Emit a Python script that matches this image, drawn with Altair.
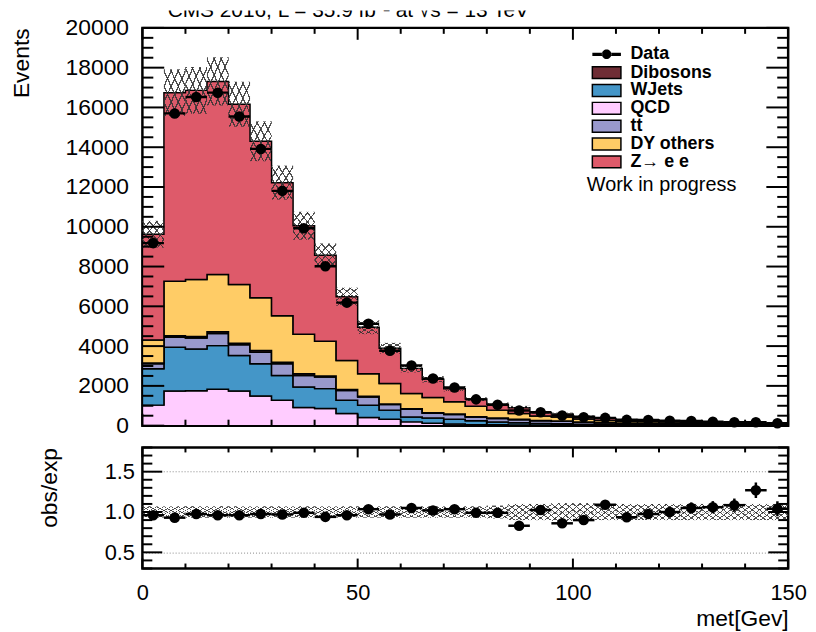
import altair as alt
import pandas as pd

FONT = "Liberation Sans"

# ---------------- data ----------------
BIN_EDGES = list(range(0, 155, 5))

LEGEND_ORDER = ["Dibosons", "WJets", "QCD", "tt", "DY others", "Z\u2192 e e"]
LEGEND_COLORS = ["#6f2d35", "#4496c8", "#ffccff", "#9999cc", "#ffcc66", "#de5a6a"]
STACK_ORDER = ["QCD", "WJets", "tt", "Dibosons", "DY others", "Z\u2192 e e"]

QCD = [1032, 1746, 1760, 1829, 1746, 1496, 1282, 914, 863, 615,
       415, 316, 190, 120, 83, 50, 40, 30, 25, 20,
       15, 12, 10, 8, 6, 5, 4, 3, 2, 2]
WJETS = [1826, 2194, 2096, 2195, 1779, 1612, 1245, 1031, 999, 666,
         616, 465, 250, 260, 233, 199, 143, 120, 85, 70,
         55, 43, 35, 30, 26, 22, 18, 15, 13, 10]
TT = [250, 499, 550, 614, 548, 583, 581, 582, 578, 489,
      409, 280, 380, 245, 244, 181, 182, 150, 140, 130,
      105, 85, 75, 70, 63, 55, 50, 44, 37, 33]
DIBOSONS = [42, 83, 74, 84, 67, 83, 84, 83, 54, 42,
            40, 31, 28, 23, 22, 19, 17, 16, 15, 13,
            11, 10, 8, 7, 6, 5, 4, 3, 3, 3]
DY_OTHERS = [1155, 2743, 2867, 2875, 2958, 2660, 2328, 1980, 1745, 1464,
             1130, 1031, 764, 765, 615, 532, 399, 299, 215, 197,
             154, 115, 97, 90, 79, 68, 59, 50, 43, 37]
ZEE = [5321, 9478, 9511, 9710, 9062, 7865, 6699, 5460, 4324, 3208,
       2340, 1768, 1268, 917, 653, 354, 300, 290, 175, 160,
       130, 95, 86, 82, 70, 64, 54, 46, 40, 35]

DATA = [9177, 15700, 16525, 16743, 15544, 13915, 11805, 9925, 8015, 6185,
        5120, 3770, 3025, 2375, 1915, 1322, 1054, 760, 673, 507,
        424, 392, 291, 280, 250, 230, 200, 175, 175, 125]

MC_UNC = [0.07, 0.07, 0.07, 0.07, 0.07, 0.07, 0.07, 0.07, 0.07, 0.07,
          0.07, 0.07, 0.07, 0.07, 0.07, 0.07, 0.08, 0.10, 0.10, 0.11,
          0.11, 0.10, 0.10, 0.10, 0.10, 0.10, 0.10, 0.10, 0.10, 0.10]

RATIO = [0.96, 0.93, 0.975, 0.96, 0.96, 0.975, 0.97, 0.99, 0.94, 0.96,
         1.035, 0.97, 1.05, 1.02, 1.035, 0.99, 0.99, 0.83, 1.025, 0.86,
         0.90, 1.09, 0.935, 0.975, 1.0, 1.05, 1.06, 1.085, 1.27, 1.04]
RATIO_ERR = [0.01, 0.008, 0.008, 0.007, 0.008, 0.008, 0.009, 0.01, 0.011, 0.012,
             0.015, 0.016, 0.019, 0.021, 0.024, 0.027, 0.03, 0.03, 0.04, 0.038,
             0.044, 0.055, 0.055, 0.058, 0.063, 0.069, 0.075, 0.082, 0.096, 0.093]

TOP_Y_LABELS = list(range(0, 20001, 2000))
TOP_Y_MINOR = [v for v in range(0, 20001, 500) if v % 2000]
X_MAJOR = [0, 50, 100, 150]
X_MINOR = [v for v in range(10, 150, 10) if v % 50]
R_Y_LABELS = [0.5, 1.0, 1.5]
R_Y_MINOR = [0.3, 0.4, 0.6, 0.7, 0.8, 0.9, 1.1, 1.2, 1.3, 1.4, 1.6, 1.7, 1.8]

CMS_TEXT = "CMS 2016, L = 35.9 fb\u207b\u00b9 at \u221as = 13 TeV"
VIS_TEXT = "Visible Mass"
WIP_TEXT = "Work in progress"

# ---------------- tables ----------------
comp_values = dict(zip(STACK_ORDER, [QCD, WJETS, TT, DIBOSONS, DY_OTHERS, ZEE]))
rows = []
base = [0.0] * 30
for name in STACK_ORDER:
    vals = comp_values[name]
    top_vals = [b + v for b, v in zip(base, vals)]
    for i, edge in enumerate(BIN_EDGES):
        j = min(i, 29)
        rows.append({"x": edge, "comp": name, "lo": base[j], "hi": top_vals[j]})
    base = top_vals
stack_df = pd.DataFrame(rows)
total = base

bins_df = pd.DataFrame({
    "x0": BIN_EDGES[:-1],
    "x1": BIN_EDGES[1:],
    "xc": [(a + b) / 2 for a, b in zip(BIN_EDGES[:-1], BIN_EDGES[1:])],
    "down": [t * (1 - u) for t, u in zip(total, MC_UNC)],
    "up": [t * (1 + u) for t, u in zip(total, MC_UNC)],
    "n": DATA,
    "lab": ["Data"] * 30,
    "r": RATIO,
    "rlo": [r - e for r, e in zip(RATIO, RATIO_ERR)],
    "rhi": [r + e for r, e in zip(RATIO, RATIO_ERR)],
    "rdown": [1 - u for u in MC_UNC],
    "rup": [1 + u for u in MC_UNC],
})

W, H, RH = 651, 401, 122

x_scale = alt.Scale(domain=[0, 150], nice=False, zero=False)
y_scale = alt.Scale(domain=[0, 20000], nice=False)
r_scale = alt.Scale(domain=[0.3, 1.8], nice=False, zero=False)

top_y_axis = alt.Axis(values=TOP_Y_LABELS, title="Events", titleAnchor="end",
                      titleFontSize=23, titleFontWeight="normal", titlePadding=32,
                      labelFontSize=23, labelPadding=14, labelFlush=False,
                      ticks=False, tickSize=0, domain=False, grid=False, format="d")
r_y_axis = alt.Axis(values=R_Y_LABELS, format=".1f", title="obs/exp", titleAnchor="end",
                    titleFontSize=23, titleFontWeight="normal", titlePadding=43,
                    labelFontSize=22, labelPadding=8, labelFlush=False,
                    ticks=False, tickSize=0, domain=False,
                    grid=True, gridDash=[1, 2], gridColor="#888888", gridWidth=1)
r_x_axis = alt.Axis(values=X_MAJOR, format="d", title="met[Gev]", titleAnchor="end",
                    titleFontSize=23, titleFontWeight="normal", titlePadding=4,
                    labelFontSize=22, labelPadding=14, labelFlush=False,
                    ticks=False, tickSize=0, domain=False, grid=False)


def XT(f):
    return alt.X(f, type="quantitative", scale=x_scale, axis=None)


def YT(f):
    return alt.Y(f, type="quantitative", scale=y_scale, axis=top_y_axis)


def XR(f):
    return alt.X(f, type="quantitative", scale=x_scale, axis=r_x_axis)


def YR(f):
    return alt.Y(f, type="quantitative", scale=r_scale, axis=r_y_axis)


# marker shape: horizontal bar (bin width) + dot, all filled
DATA_PATH = ("M-2.4,-0.27H-0.75V0.27H-2.4Z"
             "M0.75,-0.27H2.4V0.27H0.75Z"
             "M-0.8,0A0.8,0.8,0,1,0,0.8,0A0.8,0.8,0,1,0,-0.8,0Z")
RECT_PATH = "M-2.4,-1H2.4V1H-2.4Z"


def hatch(x1, y1, x2, y2, n=6, frac=0.2, line="rgba(50,50,50,0.85)"):
    clear = "rgba(255,255,255,0)"
    stops = []
    for k in range(n):
        a, b, c = k / n, (k + frac) / n, (k + 1) / n
        stops += [alt.GradientStop(offset=a, color=line), alt.GradientStop(offset=b, color=line),
                  alt.GradientStop(offset=b, color=clear), alt.GradientStop(offset=c, color=clear)]
    return alt.Gradient(gradient="linear", stops=stops, x1=x1, y1=y1, x2=x2, y2=y2)


HATCH_A = hatch(0, 0, 1, 1)
HATCH_B = hatch(1, 0, 0, 1)

LEG_X = 459
LEG_FONT = 18
LEG_LABEL_OFFSET = 15

# ---------------- top panel ----------------
areas = alt.Chart(stack_df).mark_area(
    interpolate="step-after", stroke="black", strokeWidth=1.5, opacity=1
).encode(
    x=XT("x"), y=YT("hi"), y2=alt.Y2("lo"),
    color=alt.Color("comp:N", scale=alt.Scale(domain=LEGEND_ORDER, range=LEGEND_COLORS),
                    legend=alt.Legend(title=None, orient="none", legendX=LEG_X, legendY=36.1,
                                      symbolType=RECT_PATH, symbolSize=144,
                                      symbolStrokeColor="black", symbolStrokeWidth=1.5,
                                      labelFontSize=LEG_FONT, labelFontWeight="bold",
                                      labelOffset=LEG_LABEL_OFFSET, rowPadding=-0.8,
                                      padding=0, symbolOpacity=1)),
)

band_a = alt.Chart(bins_df).mark_rect(fill=HATCH_A).encode(
    x=XT("x0"), x2=alt.X2("x1"), y=YT("down"), y2=alt.Y2("up"))
band_b = alt.Chart(bins_df).mark_rect(fill=HATCH_B).encode(
    x=XT("x0"), x2=alt.X2("x1"), y=YT("down"), y2=alt.Y2("up"))


def tick_layer(df, enc_pos, **kw):
    return alt.Chart(df).mark_rule(color="black", strokeWidth=2).encode(**enc_pos, **kw)


ty_major = pd.DataFrame({"v": TOP_Y_LABELS})
ty_minor = pd.DataFrame({"v": TOP_Y_MINOR})
tx_major = pd.DataFrame({"v": X_MAJOR})
tx_minor = pd.DataFrame({"v": X_MINOR})

top_ticks = [
    tick_layer(ty_major, {"y": YT("v")}, x=alt.value(0), x2=alt.value(22)),
    tick_layer(ty_major, {"y": YT("v")}, x=alt.value(W), x2=alt.value(W - 22)),
    tick_layer(ty_minor, {"y": YT("v")}, x=alt.value(0), x2=alt.value(11)),
    tick_layer(ty_minor, {"y": YT("v")}, x=alt.value(W), x2=alt.value(W - 11)),
    tick_layer(tx_major, {"x": XT("v")}, y=alt.value(H), y2=alt.value(H - 12)),
    tick_layer(tx_major, {"x": XT("v")}, y=alt.value(0), y2=alt.value(12)),
    tick_layer(tx_minor, {"x": XT("v")}, y=alt.value(H), y2=alt.value(H - 6)),
    tick_layer(tx_minor, {"x": XT("v")}, y=alt.value(0), y2=alt.value(6)),
]

data_bars = alt.Chart(bins_df).mark_point(
    filled=True, color="black", strokeWidth=0, size=81.5, opacity=1
).encode(
    x=XT("xc"), y=YT("n"),
    shape=alt.Shape("lab:N", scale=alt.Scale(domain=["Data"], range=[DATA_PATH]),
                    legend=alt.Legend(title=None, orient="none", legendX=LEG_X, legendY=17.6,
                                      symbolSize=144, symbolStrokeWidth=0,
                                      symbolFillColor="black",
                                      labelFontSize=LEG_FONT, labelFontWeight="bold",
                                      labelOffset=LEG_LABEL_OFFSET,
                                      padding=0, symbolOpacity=1)),
)
data_dots = alt.Chart(bins_df).mark_circle(size=113, color="black", opacity=1).encode(
    x=XT("xc"), y=YT("n"))

txt_df = pd.DataFrame({"cms": [CMS_TEXT], "vis": [VIS_TEXT], "wip": [WIP_TEXT]})
cms = alt.Chart(txt_df).mark_text(align="left", baseline="alphabetic", fontSize=21,
                                  color="black").encode(
    text="cms:N", x=alt.value(25.5), y=alt.value(-11))
# the reference cuts the header line at the top of the canvas
cms_cut = alt.Chart(txt_df).mark_rect(color="white").encode(
    x=alt.value(0), x2=alt.value(420), y=alt.value(-40), y2=alt.value(-17.5))
vis = alt.Chart(txt_df).mark_text(align="right", baseline="alphabetic", fontSize=21,
                                  color="black").encode(
    text="vis:N", x=alt.value(640), y=alt.value(-24.5))
wip = alt.Chart(txt_df).mark_text(align="left", baseline="middle", fontSize=20,
                                  color="black").encode(
    text="wip:N", x=alt.value(448), y=alt.value(158))

top = alt.layer(areas, band_a, band_b, *top_ticks, data_bars, data_dots,
                cms, cms_cut, vis, wip).properties(width=W, height=H)

# ---------------- ratio panel ----------------
rband_a = alt.Chart(bins_df).mark_rect(fill=HATCH_A).encode(
    x=XR("x0"), x2=alt.X2("x1"), y=YR("rdown"), y2=alt.Y2("rup"))
rband_b = alt.Chart(bins_df).mark_rect(fill=HATCH_B).encode(
    x=XR("x0"), x2=alt.X2("x1"), y=YR("rdown"), y2=alt.Y2("rup"))

ry_major = pd.DataFrame({"v": R_Y_LABELS})
ry_minor = pd.DataFrame({"v": R_Y_MINOR})
r_ticks = [
    tick_layer(ry_major, {"y": YR("v")}, x=alt.value(0), x2=alt.value(20)),
    tick_layer(ry_major, {"y": YR("v")}, x=alt.value(W), x2=alt.value(W - 20)),
    tick_layer(ry_minor, {"y": YR("v")}, x=alt.value(0), x2=alt.value(10)),
    tick_layer(ry_minor, {"y": YR("v")}, x=alt.value(W), x2=alt.value(W - 10)),
    tick_layer(tx_major, {"x": XR("v")}, y=alt.value(RH), y2=alt.value(RH - 10)),
    tick_layer(tx_major, {"x": XR("v")}, y=alt.value(0), y2=alt.value(10)),
    tick_layer(tx_minor, {"x": XR("v")}, y=alt.value(RH), y2=alt.value(RH - 5)),
    tick_layer(tx_minor, {"x": XR("v")}, y=alt.value(0), y2=alt.value(5)),
]

r_xbars = alt.Chart(bins_df).mark_rule(color="black", strokeWidth=2.5).encode(
    x=XR("x0"), x2=alt.X2("x1"), y=YR("r"))
r_ybars = alt.Chart(bins_df).mark_rule(color="black", strokeWidth=2.5).encode(
    x=XR("xc"), y=YR("rlo"), y2=alt.Y2("rhi"))
r_dots = alt.Chart(bins_df).mark_circle(size=113, color="black", opacity=1).encode(
    x=XR("xc"), y=YR("r"))

ratio = alt.layer(rband_a, rband_b, *r_ticks, r_xbars, r_ybars, r_dots).properties(
    width=W, height=RH)

chart = alt.vconcat(top, ratio, spacing=5).resolve_scale(
    y="independent", color="independent", shape="independent"
).properties(
    padding={"left": 0.5, "top": -25.5, "right": 0, "bottom": 0},
    background="white",
).configure(font=FONT).configure_view(stroke="black", strokeWidth=2.5)

chart.save("out.html", embed_options={"renderer": "svg", "actions": False})
